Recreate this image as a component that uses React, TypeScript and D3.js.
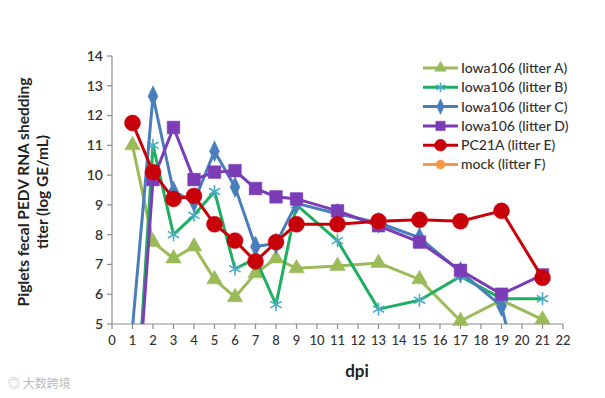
import React from 'react';
import * as d3 from 'd3';

// dpi sampled for every litter
const dpi = [1, 2, 3, 4, 5, 6, 7, 8, 9, 11, 13, 15, 17, 19, 21];

// log GE/mL titers, values under 5 fall off the plot (0 = not detected)
const litterA = [11.0, 7.75, 7.2, 7.6, 6.5, 5.9, 6.7, 7.2, 6.87, 6.95, 7.05, 6.5, 5.1, 5.8, 5.15];
const litterB = [0, 11.0, 8.0, 8.65, 9.45, 6.85, 7.2, 5.65, 9.0, 7.8, 5.5, 5.8, 6.6, 5.85, 5.85];
const litterC = [4.9, 12.65, 9.45, 9.1, 10.8, 9.6, 7.6, 7.7, 9.05, 8.7, 8.4, 7.9, 6.75, 5.6, 0];
const litterD = [0, 9.85, 11.6, 9.85, 10.1, 10.15, 9.55, 9.27, 9.2, 8.8, 8.3, 7.75, 6.8, 6.0, 6.65];
const litterE = [11.75, 10.1, 9.2, 9.3, 8.35, 7.8, 7.1, 7.75, 8.35, 8.35, 8.45, 8.5, 8.45, 8.8, 6.55];
const litterF = [0, 0, 0, 0, 0, 0, 0, 0, 0, 0, 0, 0, 0, 0, 0];

const seriesNames = [
  'Iowa106 (litter A)',
  'Iowa106 (litter B)',
  'Iowa106 (litter C)',
  'Iowa106 (litter D)',
  'PC21A (litter E)',
  'mock (litter F)',
];

const xTicks = d3.range(0, 23);
const yTicks = d3.range(5, 15);

const FONT = 'Lato, "Open Sans", sans-serif';

type Marker = 'triangle' | 'asterisk' | 'diamond' | 'square' | 'circle';

const SERIES: { name: string; values: number[]; line: string; fill: string; marker: Marker; size: number }[] = [
  { name: seriesNames[0], values: litterA, line: '#9BBB59', fill: '#9BBB59', marker: 'triangle', size: 105 },
  { name: seriesNames[1], values: litterB, line: '#1FAF62', fill: '#4BACC6', marker: 'asterisk', size: 120 },
  { name: seriesNames[2], values: litterC, line: '#4A7EBB', fill: '#4A7EBB', marker: 'diamond', size: 105 },
  { name: seriesNames[3], values: litterD, line: '#7B3DB6', fill: '#7B3DB6', marker: 'square', size: 160 },
  { name: seriesNames[4], values: litterE, line: '#C8000A', fill: '#C8000A', marker: 'circle', size: 200 },
  { name: seriesNames[5], values: litterF, line: '#F79646', fill: '#F79646', marker: 'circle', size: 120 },
];

const symbolFor = (m: Marker) => {
  switch (m) {
    case 'triangle': return d3.symbolTriangle;
    case 'asterisk': return d3.symbolAsterisk;
    case 'diamond': return d3.symbolDiamond;
    case 'square': return d3.symbolSquare;
    default: return d3.symbolCircle;
  }
};

const MarkerShape: React.FC<{ s: typeof SERIES[number]; x: number; y: number; scale?: number }> = ({ s, x, y, scale = 1 }) => {
  const d = d3.symbol(symbolFor(s.marker), s.size * scale)() || '';
  if (s.marker === 'asterisk') {
    return <path d={d} transform={`translate(${x},${y})`} fill="none" stroke={s.fill} strokeWidth={1.6} />;
  }
  const extra = s.marker === 'diamond' ? ' scale(0.9,1.1)' : '';
  return <path d={d} transform={`translate(${x},${y})${extra}`} fill={s.fill} stroke={s.fill} strokeWidth={0.5} />;
};

export default function App() {
  const width = 605;
  const height = 398;
  const plot = { left: 112, right: 563, top: 56, bottom: 324 };

  const x = d3.scaleLinear().domain([0, 22]).range([plot.left, plot.right]);
  const y = d3.scaleLinear().domain([5, 14]).range([plot.bottom, plot.top]);

  const line = d3.line<number>()
    .x((_, i) => x(dpi[i]))
    .y(v => y(v));

  const axisColor = '#8C8C8C';
  const legendX = 423;
  const legendY = 68;
  const legendStep = 19.3;

  return (
    <svg width={width} height={height} style={{ position: 'absolute', left: 0, top: 0, background: '#fff' }}>
      <defs>
        <clipPath id="plotClip">
          <rect x={plot.left} y={plot.top - 10} width={plot.right - plot.left + 10} height={plot.bottom - plot.top + 10} />
        </clipPath>
      </defs>

      {/* y axis */}
      <line x1={plot.left} x2={plot.left} y1={plot.top} y2={plot.bottom} stroke={axisColor} strokeWidth={1.2} />
      {yTicks.map(t => (
        <g key={t}>
          <line x1={plot.left - 5} x2={plot.left} y1={y(t)} y2={y(t)} stroke={axisColor} strokeWidth={1.2} />
          <text x={plot.left - 9} y={y(t)} dy="0.35em" textAnchor="end" fontFamily={FONT} fontSize={14}
            fontWeight={600} fill="#333">{t}</text>
        </g>
      ))}

      {/* x axis */}
      <line x1={plot.left} x2={plot.right} y1={plot.bottom} y2={plot.bottom} stroke={axisColor} strokeWidth={1.2} />
      {xTicks.map(t => (
        <g key={t}>
          <line x1={x(t)} x2={x(t)} y1={plot.bottom} y2={plot.bottom + 5} stroke={axisColor} strokeWidth={1.2} />
          <text x={x(t)} y={plot.bottom + 21} textAnchor="middle" fontFamily={FONT} fontSize={13}
            fontWeight={500} fill="#333">{t}</text>
        </g>
      ))}

      {/* axis titles */}
      <text x={357} y={377} textAnchor="middle" fontFamily={FONT} fontSize={17} fontWeight="bold" fill="#222">dpi</text>
      <g transform="translate(29,192) rotate(-90)">
        <text x={0} y={0} textAnchor="middle" fontFamily={FONT} fontSize={15.5} fontWeight="bold" fill="#222">
          Piglets fecal PEDV RNA shedding
        </text>
        <text x={0} y={19} textAnchor="middle" fontFamily={FONT} fontSize={15.5} fontWeight="bold" fill="#222">
          titer (log GE/mL)
        </text>
      </g>

      {/* series */}
      {SERIES.map(s => (
        <g key={s.name}>
          <path d={line(s.values) || ''} fill="none" stroke={s.line} strokeWidth={3} strokeLinejoin="round"
            clipPath="url(#plotClip)" />
          {s.values.map((v, i) => v >= 5 ? <MarkerShape key={i} s={s} x={x(dpi[i])} y={y(v)} /> : null)}
        </g>
      ))}

      {/* legend */}
      {SERIES.map((s, i) => {
        const ly = legendY + i * legendStep;
        return (
          <g key={s.name}>
            <line x1={legendX} x2={legendX + 35} y1={ly} y2={ly} stroke={s.line} strokeWidth={3} />
            <MarkerShape s={s} x={legendX + 17.5} y={ly} scale={0.55} />
            <text x={legendX + 38} y={ly} dy="0.35em" fontFamily={FONT} fontSize={14} fontWeight={500}
              fill="#333">{s.name}</text>
          </g>
        );
      })}

      {/* watermark */}
      <text x={8} y={388} fontFamily='"Noto Sans CJK SC", sans-serif' fontSize={12} fill="#BBBBBB">◎ 大数跨境</text>
    </svg>
  );
}
